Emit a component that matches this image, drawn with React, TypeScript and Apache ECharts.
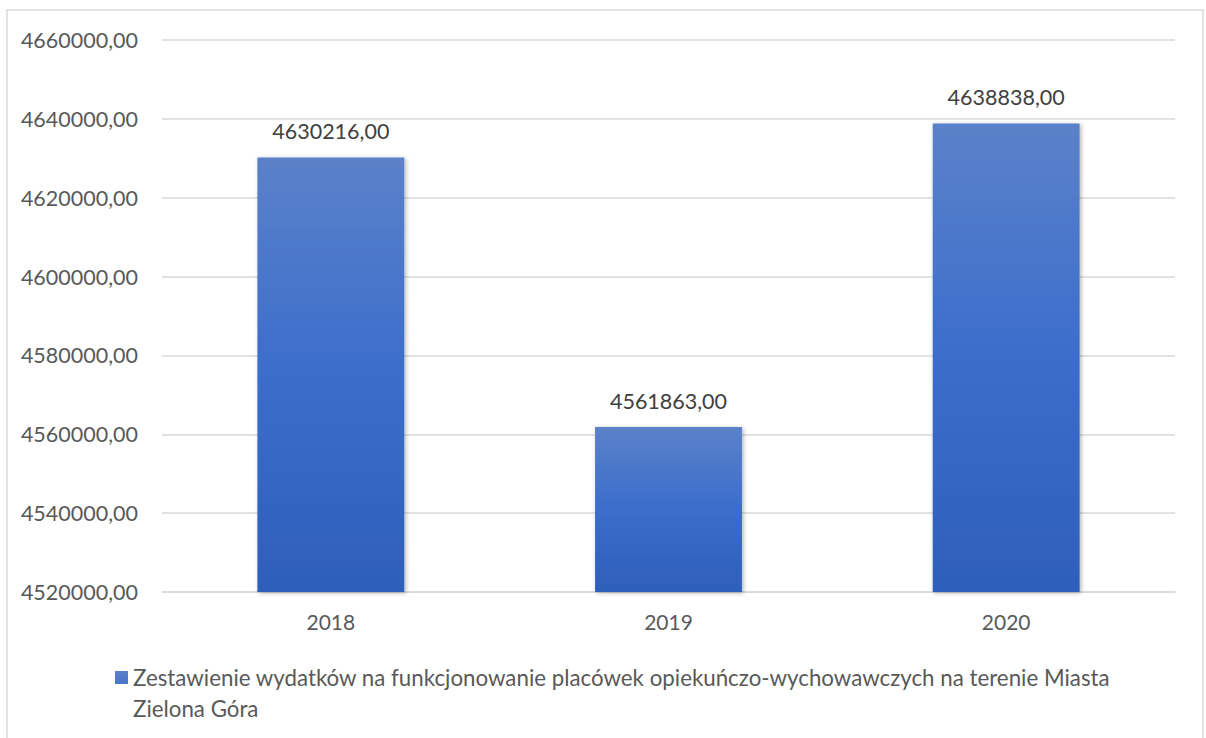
import React, { useEffect, useRef } from "react";
import * as echarts from "echarts";

const categories = ["2018", "2019", "2020"];
const values = [4630216, 4561863, 4638838];
const seriesName =
  "Zestawienie wydatków na funkcjonowanie placówek opiekuńczo-wychowawczych na terenie Miasta\nZielona Góra";
const yMin = 4520000;
const yMax = 4660000;
const yStep = 20000;

const fmt = (v: number) => v.toFixed(2).replace(".", ",");

export default function App() {
  const ref = useRef<HTMLDivElement>(null);
  useEffect(() => {
    document.body.style.margin = "0";
    const chart = echarts.init(ref.current!, null, { renderer: "svg" });
    const font = "Lato, 'Open Sans', sans-serif";
    chart.setOption({
      animation: false,
      backgroundColor: "#ffffff",
      textStyle: { fontFamily: font },
      graphic: [
        {
          type: "rect",
          shape: { x: 7, y: 10, width: 1196, height: 740 },
          style: { fill: "none", stroke: "#d9d9d9", lineWidth: 1.5 },
          silent: true,
          z: -1,
        },
      ],
      grid: { left: 162, right: 31, top: 40, bottom: 146 },
      xAxis: {
        type: "category",
        data: categories,
        axisTick: { show: false },
        axisLine: { lineStyle: { color: "#d9d9d9", width: 1.5 } },
        axisLabel: { color: "#595959", fontSize: 21, margin: 19, fontFamily: font },
      },
      yAxis: {
        type: "value",
        min: yMin,
        max: yMax,
        interval: yStep,
        axisLine: { show: false },
        axisTick: { show: false },
        splitLine: { lineStyle: { color: "#d9d9d9", width: 1.5 } },
        axisLabel: {
          color: "#595959",
          fontSize: 21.5,
          margin: 24,
          fontFamily: font,
          formatter: (v: number) => fmt(v),
        },
      },
      legend: {
        left: 110,
        top: 657,
        icon: "path://M0,0h13v13h-13zM0,44",
        itemWidth: 13,
        itemHeight: 44,
        itemGap: 7,
        textStyle: {
          color: "#595959",
          fontSize: 22.3,
          lineHeight: 31,
          fontFamily: font,
        },
        data: [seriesName],
      },
      series: [
        {
          type: "bar",
          name: seriesName,
          data: values,
          barWidth: "43.5%",
          itemStyle: {
            color: new echarts.graphic.LinearGradient(0, 0, 0, 1, [
              { offset: 0, color: "#5b81c9" },
              { offset: 0.5, color: "#3b6dcc" },
              { offset: 1, color: "#2e5fba" },
            ]),
            shadowBlur: 4,
            shadowColor: "rgba(0,0,0,0.3)",
            shadowOffsetX: 1.5,
            shadowOffsetY: 1,
          },
          label: {
            show: true,
            position: "top",
            distance: 15,
            color: "#404040",
            fontSize: 21.5,
            fontFamily: font,
            formatter: (p: any) => fmt(p.value),
          },
        },
      ],
    });
    return () => chart.dispose();
  }, []);
  return <div ref={ref} style={{ width: 1206, height: 738 }} />;
}
